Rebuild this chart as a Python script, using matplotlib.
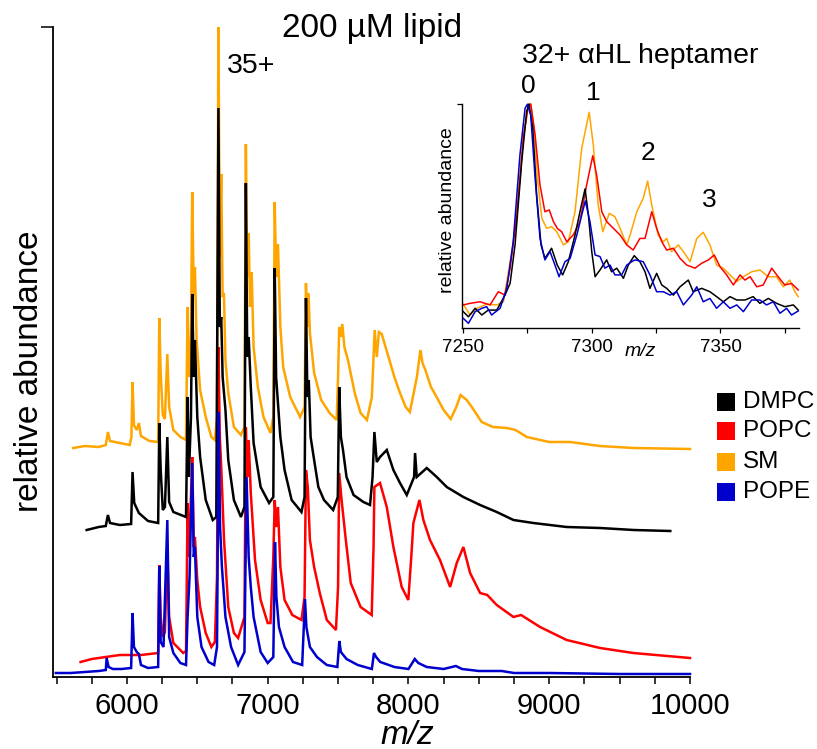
import matplotlib
matplotlib.use("Agg")
import matplotlib.pyplot as plt
from matplotlib.patches import Rectangle
from matplotlib.ticker import MultipleLocator, FixedLocator

plt.rcParams['font.family'] = ['Liberation Sans', 'DejaVu Sans']

# ---------------- data ----------------
lipids = ["DMPC", "POPC", "SM", "POPE"]
colors = ["#000000", "#FF0000", "#FFA500", "#0000CC"]

# main spectra (m/z, stacked relative abundance, arbitrary units)
sm_mz = [5618, 5700, 5800, 5850, 5865, 5880, 5950, 6020, 6032, 6040, 6050, 6070, 6085, 6100, 6160, 6222,
         6230, 6240, 6255, 6270, 6287, 6300, 6330, 6380, 6420, 6431, 6440, 6455, 6464, 6475, 6483, 6495,
         6520, 6560, 6600, 6625, 6640, 6650, 6660, 6670, 6680, 6689, 6700, 6720, 6760, 6810, 6835, 6845,
         6855, 6865, 6875, 6886, 6900, 6930, 6970, 7020, 7040, 7050, 7060, 7073, 7090, 7110, 7160, 7230,
         7262, 7272, 7280, 7290, 7300, 7330, 7380, 7440, 7490, 7500, 7508, 7520, 7530, 7545, 7570, 7620,
         7660, 7705, 7740, 7760, 7775, 7790, 7810, 7850, 7900, 7940, 7980, 8010, 8060, 8085, 8100, 8120,
         8160, 8200, 8250, 8300, 8340, 8370, 8414, 8450, 8520, 8600, 8700, 8760, 8841, 9000, 9150, 9360,
         9600, 10000]
sm_int = [229, 231, 230, 232, 245, 236, 234, 232, 240, 295, 252, 247, 254, 241, 236, 235,
          359, 304, 262, 258, 323, 270, 247, 240, 237, 370, 300, 340, 485, 380, 410, 337,
          287, 260, 240, 237, 260, 650, 420, 503, 380, 384, 317, 284, 250, 242, 250, 533,
          400, 444, 370, 405, 330, 290, 260, 244, 260, 475, 400, 433, 350, 310, 280, 260,
          270, 394, 350, 384, 344, 304, 277, 264, 257, 300, 350, 340, 353, 330, 317, 283,
          264, 257, 280, 347, 320, 345, 343, 324, 300, 284, 270, 265, 300, 327, 314, 307,
          290, 280, 267, 258, 270, 282, 277, 270, 255, 250, 249, 247, 240, 235, 235, 231,
          229, 228]

dmpc_mz = [5714, 5800, 5850, 5865, 5880, 5950, 6030, 6040, 6052, 6085, 6150, 6222, 6230, 6240, 6255, 6270,
           6287, 6300, 6330, 6420, 6431, 6440, 6455, 6464, 6475, 6483, 6500, 6520, 6560, 6610, 6635, 6650,
           6660, 6670, 6680, 6700, 6720, 6760, 6810, 6835, 6845, 6855, 6865, 6880, 6900, 6950, 7010, 7040,
           7050, 7060, 7073, 7090, 7120, 7170, 7240, 7262, 7272, 7282, 7292, 7305, 7330, 7360, 7400, 7465,
           7498, 7508, 7520, 7535, 7560, 7610, 7680, 7727, 7745, 7758, 7775, 7798, 7846, 7893, 7940, 7988,
           8040, 8047, 8059, 8130, 8201, 8272, 8390, 8509, 8627, 8746, 8887, 9124, 9361, 9600, 9860]
dmpc_int = [147, 150, 151, 162, 154, 152, 153, 205, 174, 164, 156, 154, 254, 207, 167, 170,
            240, 175, 165, 160, 280, 200, 260, 383, 300, 337, 260, 220, 177, 157, 160, 569,
            350, 360, 300, 267, 217, 177, 160, 170, 494, 320, 340, 290, 234, 190, 174, 180,
            409, 300, 274, 240, 207, 177, 165, 180, 379, 280, 297, 240, 217, 190, 177, 167,
            180, 290, 240, 227, 200, 182, 175, 172, 200, 245, 215, 220, 227, 207, 194, 182,
            200, 224, 200, 209, 200, 190, 180, 172, 165, 157, 154, 150, 149, 147, 146]

popc_mz = [5671, 5750, 5850, 5950, 6100, 6222, 6230, 6240, 6255, 6270, 6287, 6300, 6330, 6400, 6420, 6431,
           6440, 6455, 6464, 6475, 6483, 6500, 6520, 6560, 6600, 6625, 6640, 6650, 6660, 6670, 6690, 6720,
           6760, 6790, 6835, 6845, 6855, 6865, 6880, 6910, 6950, 7000, 7020, 7040, 7050, 7060, 7073, 7090,
           7120, 7175, 7240, 7262, 7272, 7285, 7300, 7330, 7370, 7420, 7485, 7500, 7508, 7525, 7555, 7590,
           7660, 7739, 7752, 7758, 7798, 7846, 7893, 7952, 7999, 8020, 8035, 8078, 8106, 8153, 8224, 8296,
           8343, 8390, 8438, 8509, 8560, 8627, 8746, 8800, 8935, 9124, 9361, 9597, 10000]
popc_int = [15, 18, 20, 22, 22, 24, 112, 60, 40, 45, 130, 60, 34, 24, 26, 174,
            120, 180, 220, 130, 140, 97, 70, 44, 30, 35, 100, 330, 240, 210, 137, 70,
            44, 39, 60, 250, 200, 237, 184, 117, 77, 54, 54, 120, 177, 150, 170, 110,
            77, 62, 57, 80, 207, 190, 137, 110, 84, 57, 47, 90, 204, 177, 137, 94,
            70, 62, 130, 190, 194, 170, 130, 90, 77, 120, 154, 177, 157, 137, 117, 90,
            114, 130, 104, 84, 82, 72, 60, 62, 50, 37, 29, 24, 19]

pope_mz = [5495, 5600, 5700, 5800, 5850, 5856, 5870, 5900, 5960, 6030, 6040, 6050, 6070, 6085, 6100, 6150,
           6222, 6230, 6240, 6260, 6287, 6300, 6330, 6380, 6420, 6431, 6445, 6464, 6475, 6483, 6500, 6530,
           6580, 6620, 6640, 6652, 6662, 6675, 6700, 6740, 6790, 6835, 6850, 6865, 6880, 6900, 6950, 7000,
           7040, 7052, 7062, 7080, 7120, 7180, 7245, 7265, 7275, 7300, 7350, 7420, 7495, 7509, 7520, 7560,
           7640, 7740, 7755, 7770, 7800, 7900, 8000, 8045, 8070, 8130, 8250, 8337, 8380, 8500, 8662, 8750,
           9000, 9500, 10000]
pope_int = [4, 4, 5, 6, 7, 19, 10, 8, 8, 9, 64, 30, 25, 23, 12, 9,
            10, 111, 35, 30, 157, 40, 24, 14, 12, 60, 100, 214, 120, 130, 60, 30,
            15, 12, 30, 265, 150, 110, 60, 30, 12, 25, 200, 120, 90, 60, 25, 14,
            20, 135, 80, 50, 30, 15, 12, 78, 50, 30, 20, 12, 10, 36, 25, 18,
            12, 8, 24, 20, 15, 10, 8, 18, 14, 10, 8, 11, 8, 6, 6, 4,
            4, 3, 3]

# inset: 32+ alpha-HL heptamer, relative abundance (%)
in_sm_mz = [7250.1, 7252.7, 7255.3, 7259.2, 7263.1, 7265.7, 7268.3, 7269.5, 7271.5, 7273.4, 7275.4, 7276.3,
            7277.6, 7278.9, 7280.6, 7282.5, 7284.4, 7286.4, 7289.0, 7290.9, 7293.5, 7296.1, 7299.0, 7300.6,
            7302.5, 7304.3, 7306.8, 7309.0, 7311.0, 7313.6, 7314.9, 7317.5, 7320.0, 7321.7, 7323.3, 7325.8,
            7327.8, 7329.1, 7331.0, 7333.6, 7335.6, 7338.2, 7340.8, 7343.3, 7345.9, 7348.5, 7351.1, 7353.7,
            7356.3, 7358.9, 7362.1, 7365.3, 7368.6, 7371.8, 7374.4, 7376.9, 7378.9, 7380.2]
in_sm_int = [10.6, 5.8, 8.8, 10.6, 10.3, 11.7, 29.6, 38.5, 59.4, 84.7, 99.6, 100.0,
             89.2, 66.8, 49.0, 44.5, 45.2, 43.0, 37.1, 38.5, 51.9, 80.2, 96.3, 81.7,
             54.9, 43.0, 51.2, 49.7, 44.5, 37.1, 41.5, 51.9, 57.9, 65.6, 54.9, 41.5,
             38.5, 40.0, 34.1, 37.1, 34.1, 29.6, 40.0, 42.7, 37.1, 28.1, 26.7, 23.7,
             20.7, 22.9, 25.1, 25.9, 22.9, 22.9, 18.4, 21.4, 16.2, 14.0]

in_popc_mz = [7250.1, 7252.7, 7256.6, 7260.5, 7263.7, 7266.3, 7268.3, 7270.9, 7273.4, 7275.4, 7276.3, 7278.0,
              7279.9, 7281.8, 7283.5, 7285.1, 7286.6, 7288.3, 7290.3, 7292.8, 7295.4, 7298.0, 7300.4, 7301.9,
              7303.9, 7305.8, 7308.4, 7311.0, 7313.6, 7316.1, 7318.7, 7320.7, 7323.3, 7325.2, 7327.2, 7329.1,
              7331.7, 7334.3, 7336.9, 7340.1, 7342.7, 7345.3, 7347.6, 7349.8, 7352.4, 7355.0, 7357.6, 7359.5,
              7361.5, 7364.1, 7366.6, 7369.9, 7372.4, 7375.0, 7377.6, 7380.2]
in_popc_int = [10.3, 11.0, 11.7, 10.3, 16.2, 14.7, 26.7, 50.4, 84.7, 99.5, 100.0, 86.2,
               63.8, 51.9, 52.7, 47.5, 44.5, 43.0, 38.5, 41.5, 47.5, 63.8, 76.9, 68.3,
               51.9, 47.5, 44.5, 41.5, 37.1, 34.8, 40.0, 40.0, 51.9, 44.5, 38.5, 34.8,
               35.6, 31.1, 28.1, 26.7, 28.9, 30.4, 32.6, 27.4, 23.7, 19.2, 23.7, 21.4,
               22.9, 18.4, 19.2, 26.7, 22.9, 19.2, 19.9, 17.0]

in_dmpc_mz = [7250.1, 7252.1, 7254.7, 7257.3, 7259.8, 7263.1, 7266.3, 7268.3, 7270.2, 7272.8, 7274.7, 7275.6,
              7277.1, 7278.6, 7280.3, 7281.8, 7284.4, 7286.6, 7288.7, 7290.9, 7293.5, 7295.7, 7297.4, 7298.7,
              7300.0, 7301.3, 7303.2, 7305.8, 7307.7, 7309.7, 7312.3, 7314.2, 7316.5, 7318.7, 7320.7, 7322.6,
              7325.2, 7327.2, 7329.1, 7331.7, 7334.3, 7337.5, 7339.4, 7342.7, 7345.9, 7348.5, 7351.1, 7353.7,
              7356.3, 7359.5, 7362.7, 7365.3, 7368.6, 7371.8, 7375.0, 7378.3, 7380.2]
in_dmpc_int = [7.3, 5.0, 8.8, 5.8, 8.0, 8.0, 14.7, 20.0, 37.1, 74.2, 96.6, 100.0,
               89.2, 59.4, 37.1, 31.1, 35.6, 28.1, 23.7, 29.6, 41.5, 53.4, 62.1, 50.4,
               34.1, 22.9, 25.9, 30.4, 25.1, 26.7, 22.2, 28.1, 32.3, 29.6, 25.1, 17.7,
               24.4, 19.2, 17.7, 14.7, 18.4, 21.4, 16.2, 17.7, 16.2, 14.0, 11.7, 14.0,
               12.5, 12.5, 14.0, 11.0, 13.2, 11.0, 9.5, 10.3, 8.0]

in_pope_mz = [7250.1, 7252.1, 7254.7, 7257.3, 7259.2, 7261.1, 7264.4, 7267.0, 7269.5, 7272.1, 7274.1, 7275.0,
              7276.3, 7278.0, 7279.9, 7281.8, 7283.8, 7285.7, 7287.3, 7289.6, 7291.6, 7294.2, 7296.1, 7297.5,
              7299.3, 7301.3, 7303.2, 7305.1, 7307.1, 7309.0, 7311.6, 7313.6, 7315.5, 7316.8, 7320.0, 7322.6,
              7325.2, 7327.8, 7330.4, 7333.0, 7335.6, 7338.8, 7340.8, 7343.3, 7345.9, 7348.5, 7351.1, 7353.7,
              7356.3, 7358.9, 7362.1, 7365.3, 7367.9, 7370.5, 7373.1, 7375.7, 7377.6, 7380.2]
in_pope_int = [4.3, 2.1, 7.3, 8.8, 9.5, 5.8, 8.8, 17.7, 38.5, 77.2, 98.1, 99.9,
               95.1, 66.8, 40.0, 30.4, 34.1, 28.1, 22.9, 29.6, 31.1, 41.5, 50.4, 56.7,
               47.5, 32.6, 31.9, 26.7, 28.1, 23.7, 23.7, 28.1, 29.6, 30.4, 29.6, 23.7,
               16.2, 16.2, 14.7, 16.2, 10.3, 14.7, 18.4, 11.7, 13.2, 8.8, 11.7, 8.8,
               10.3, 7.3, 12.5, 12.5, 10.3, 11.7, 6.6, 8.8, 5.8, 7.6]

main_xticks = [6000, 7000, 8000, 9000, 10000]
inset_xticks = [7250, 7300, 7350]
adduct_labels = ["0", "1", "2", "3"]
adduct_pos = [(7275.5, 105), (7300.5, 102), (7322, 75.2), (7345.5, 53.8)]

# ---------------- figure ----------------
W, H = 817, 749
fig = plt.figure(figsize=(W / 100, H / 100), dpi=100)

def fx(px):
    return px / W

def fy(py):
    return 1 - py / H

ax = fig.add_axes([fx(53), fy(677), fx(690) - fx(53), fy(27) - fy(677)])
ax.set_xlim(5475, 10000)
ax.set_ylim(0, 650)

main = {"SM": (sm_mz, sm_int), "POPC": (popc_mz, popc_int),
        "DMPC": (dmpc_mz, dmpc_int), "POPE": (pope_mz, pope_int)}
zorder = {"SM": 1, "POPC": 2, "DMPC": 3, "POPE": 4}
for name, col in zip(lipids, colors):
    x, y = main[name]
    ax.plot(x, y, color=col, lw=1.8, zorder=zorder[name], clip_on=False,
            solid_joinstyle='miter')

for s in ["top", "right"]:
    ax.spines[s].set_visible(False)
for s in ["left", "bottom"]:
    ax.spines[s].set_linewidth(1.3)
ax.xaxis.set_major_locator(FixedLocator(main_xticks))
ax.xaxis.set_minor_locator(MultipleLocator(250))
ax.tick_params(axis='x', which='both', direction='out', length=4.8, width=1.1,
               labelsize=21, pad=6)
ax.set_yticks([650])
ax.set_yticklabels([])
ax.tick_params(axis='y', direction='out', length=8.6, width=1.1)

fig.text(fx(30), fy(371), "relative abundance", rotation=90, ha='center', va='center', fontsize=24)
fig.text(fx(407), fy(735), "m/z", style='italic', ha='center', va='center', fontsize=24)
fig.text(fx(282), fy(37), "200 \u00b5M lipid", ha='left', va='baseline', fontsize=24)
fig.text(fx(227), fy(73), "35+", ha='left', va='baseline', fontsize=20.5)

# legend
rows_y = [402, 431, 462, 492]
for name, col, ry in zip(lipids, colors, rows_y):
    fig.patches.append(Rectangle((fx(717), fy(ry + 9)), fx(18), 18 / H, transform=fig.transFigure,
                                 facecolor=col, edgecolor='none'))
    fig.text(fx(743), fy(ry), name, ha='left', va='center', fontsize=17.5)

# ---------------- inset ----------------
ix = fig.add_axes([fx(462), fy(328), fx(799) - fx(462), fy(104) - fy(328)])
ix.patch.set_alpha(0)
ix.set_xlim(7249.6, 7380.5)
ix.set_ylim(0, 100)
inset = {"SM": (in_sm_mz, in_sm_int), "POPC": (in_popc_mz, in_popc_int),
         "DMPC": (in_dmpc_mz, in_dmpc_int), "POPE": (in_pope_mz, in_pope_int)}
for name, col in zip(lipids, colors):
    x, y = inset[name]
    ix.plot(x, y, color=col, lw=1.1, zorder=zorder[name], clip_on=False)
for s in ["top", "right"]:
    ix.spines[s].set_visible(False)
for s in ["left", "bottom"]:
    ix.spines[s].set_linewidth(1.0)
ix.xaxis.set_major_locator(FixedLocator(inset_xticks))
ix.xaxis.set_minor_locator(MultipleLocator(25))
ix.tick_params(axis='x', which='both', direction='out', length=3.6, width=0.9,
               labelsize=13.5, pad=4)
ix.set_yticks([100])
ix.set_yticklabels([])
ix.tick_params(axis='y', direction='out', length=3.6, width=0.9)

fig.text(fx(447), fy(210), "relative abundance", rotation=90, ha='center', va='center', fontsize=14)
fig.text(fx(640), fy(352), "m/z", style='italic', ha='center', va='center', fontsize=14)
fig.text(fx(522), fy(63), "32+ \u03b1HL heptamer", ha='left', va='baseline', fontsize=20.5)
for lab, (mzv, yv) in zip(adduct_labels, adduct_pos):
    ix.text(mzv, yv, lab, ha='center', va='baseline', fontsize=19, clip_on=False)

fig.savefig("out.png", dpi=100)
